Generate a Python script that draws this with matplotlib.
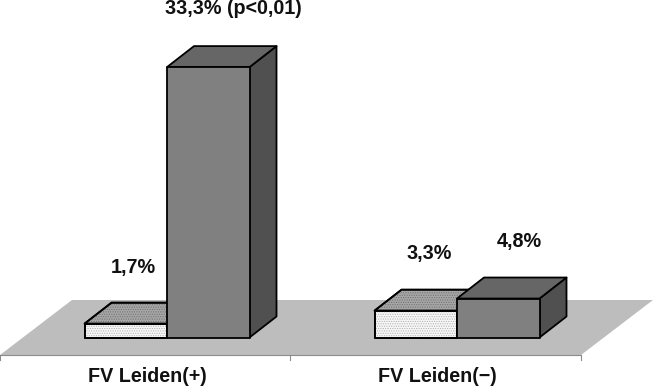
import matplotlib
matplotlib.use('Agg')
import matplotlib.pyplot as plt
from matplotlib.patches import Polygon
import numpy as np

plt.rcParams['font.family'] = ['Liberation Sans', 'DejaVu Sans']
plt.rcParams['hatch.linewidth'] = 0.5

categories = ['FV Leiden(+)', 'FV Leiden(\u2212)']
light_values = [1.7, 3.3]
dark_values = [33.3, 4.8]
light_labels = ['1,7%', '3,3%']
dark_labels = ['33,3% (p<0,01)', '4,8%']

# axes fill the whole figure, one category = 290 px, one percent = 8.12 px
px_x = 290.0
px_y = 8.12
fig = plt.figure(figsize=(6.53, 3.89), dpi=100)
ax = fig.add_axes([0, 0, 1, 1])
ax.set_xlim(-167 / px_x, (653 - 167) / px_x)
ax.set_ylim(-(389 - 337.5) / px_y, 337.5 / px_y)
ax.axis('off')

bar_w = 82.5 / px_x
dx = 27 / px_x
dy = 21 / px_y

# floor
fl, fr = -0.5759, 1.4276
front, back = -17.5 / px_y, 37.5 / px_y
skew = 72 / px_x
ax.add_patch(Polygon([(fl, front), (fr, front), (fr + skew, back), (fl + skew, back)],
                     facecolor='#bdbdbd', edgecolor='none', zorder=1))
ax.plot([fl, fr], [front, front], color='#8c8c8c', lw=0.8, zorder=1.5)
for t in [fl, (fl + fr) / 2, fr]:
    ax.plot([t, t], [front, front - 5 / px_y], color='#8c8c8c', lw=0.8, zorder=1.5)


def box(x0, h, front_col, top_col, side_col, hatch_front=None, hatch_top=None, z=2):
    x1 = x0 + bar_w
    kw = dict(edgecolor='black', lw=1.3, joinstyle='round', zorder=z)
    ax.add_patch(Polygon([(x1, 0), (x1 + dx, dy), (x1 + dx, h + dy), (x1, h)],
                         facecolor=side_col, **kw))
    top = Polygon([(x0, h), (x1, h), (x1 + dx, h + dy), (x0 + dx, h + dy)],
                  facecolor=top_col, **kw)
    ax.add_patch(top)
    fr_face = Polygon([(x0, 0), (x1, 0), (x1, h), (x0, h)], facecolor=front_col, **kw)
    ax.add_patch(fr_face)
    for poly, hatch, col in [(top, hatch_top, '#6e6e6e'), (fr_face, hatch_front, '#b0b0b0')]:
        if hatch:
            ax.add_patch(Polygon(poly.get_xy(), facecolor='none', edgecolor=col, hatch=hatch,
                                 lw=0, zorder=z))
            ax.add_patch(Polygon(poly.get_xy(), fill=False, edgecolor='black', lw=1.3, zorder=z))


for i in range(2):
    box(i - bar_w, light_values[i], '#f6f6f6', '#a6a6a6', '#8a8a8a',
        hatch_front='.......', hatch_top='.......', z=2 + i * 2)
    box(i, dark_values[i], '#808080', '#666666', '#505050', z=3 + i * 2)

label_style = dict(ha='center', va='center', fontsize=14.2, fontweight='bold', color='#111111')
ax.text(133 / px_x - 167 / px_x, (337.5 - 267) / px_y, light_labels[0], **label_style)
ax.text(233 / px_x - 167 / px_x, (337.5 - 8) / px_y, dark_labels[0], **label_style)
ax.text(429 / px_x - 167 / px_x, (337.5 - 253) / px_y, light_labels[1], **label_style)
ax.text(519 / px_x - 167 / px_x, (337.5 - 241) / px_y, dark_labels[1], **label_style)

ax.text((147 - 167) / px_x, (337.5 - 377) / px_y, categories[0], **label_style)
ax.text((437 - 167) / px_x, (337.5 - 377) / px_y, categories[1], **label_style)

fig.savefig('out.png', dpi=100)
